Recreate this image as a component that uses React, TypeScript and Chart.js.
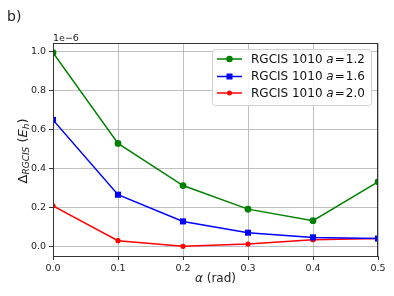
import React, { useEffect, useRef } from "react";
import { Chart, registerables } from "chart.js";

Chart.register(...registerables);

const alphas = [0.0, 0.1, 0.2, 0.3, 0.4, 0.5];
const seriesA12 = [0.994, 0.528, 0.312, 0.191, 0.132, 0.331];
const seriesA16 = [0.649, 0.265, 0.128, 0.07, 0.046, 0.04];
const seriesA20 = [0.208, 0.029, 0.0, 0.012, 0.034, 0.04];
const seriesLabels = ["1.2", "1.6", "2.0"];
const xTicks = [0.0, 0.1, 0.2, 0.3, 0.4, 0.5];
const yTicks = [0.0, 0.2, 0.4, 0.6, 0.8, 1.0];

const FONT = "'DejaVu Sans', sans-serif";
const colors = ["#008000", "#0000ff", "#ff0000"];
const styles = ["circle", "rect", "circle"];
const radii = [3.4, 4.3, 2.6];

const decorPlugin = {
  id: "decor",
  afterDraw(chart: any) {
    const ctx = chart.ctx;
    const a = chart.chartArea;
    ctx.save();
    // frame
    ctx.strokeStyle = "#333";
    ctx.lineWidth = 1;
    ctx.strokeRect(a.left + 0.5, a.top + 0.5, a.right - a.left - 1, a.bottom - a.top);
    ctx.fillStyle = "#222";
    // b)
    ctx.font = `14px ${FONT}`;
    ctx.textBaseline = "alphabetic";
    ctx.textAlign = "left";
    ctx.fillText("b)", 7, 21);
    // offset text
    ctx.font = `9.5px ${FONT}`;
    ctx.fillText("1e\u22126", a.left, 41);
    // x title
    const cx = (a.left + a.right) / 2;
    ctx.font = `italic 12px ${FONT}`;
    const w1 = ctx.measureText("\u03b1").width;
    ctx.font = `12px ${FONT}`;
    const w2 = ctx.measureText(" (rad)").width;
    let x0 = cx - (w1 + w2) / 2;
    ctx.font = `italic 12px ${FONT}`;
    ctx.fillText("\u03b1", x0, 282);
    ctx.font = `12px ${FONT}`;
    ctx.fillText(" (rad)", x0 + w1, 282);
    // y title (rotated)
    ctx.translate(26.5, 151);
    ctx.rotate(-Math.PI / 2);
    const parts: [string, string, number][] = [
      ["\u0394", `13px ${FONT}`, 0],
      ["RGCIS", `italic 9px ${FONT}`, 2.5],
      [" (", `13px ${FONT}`, 0],
      ["E", `italic 13px ${FONT}`, 0],
      ["h", `italic 9px ${FONT}`, 2.5],
      [")", `13px ${FONT}`, 0],
    ];
    let tw = 0;
    for (const p of parts) { ctx.font = p[1]; tw += ctx.measureText(p[0]).width; }
    let px = -tw / 2;
    for (const p of parts) {
      ctx.font = p[1];
      ctx.fillText(p[0], px, p[2]);
      px += ctx.measureText(p[0]).width;
    }
    ctx.restore();

    // legend
    ctx.save();
    const lx = 212.5, ly = 49.5, lw = 159, lh = 56, r = 3;
    ctx.beginPath();
    ctx.moveTo(lx + r, ly);
    ctx.arcTo(lx + lw, ly, lx + lw, ly + lh, r);
    ctx.arcTo(lx + lw, ly + lh, lx, ly + lh, r);
    ctx.arcTo(lx, ly + lh, lx, ly, r);
    ctx.arcTo(lx, ly, lx + lw, ly, r);
    ctx.closePath();
    ctx.fillStyle = "rgba(255,255,255,0.85)";
    ctx.fill();
    ctx.strokeStyle = "#d0d0d0";
    ctx.lineWidth = 1;
    ctx.stroke();
    const rows = [59, 76.5, 93];
    chart.data.datasets.forEach((ds: any, i: number) => {
      const y = rows[i];
      ctx.strokeStyle = colors[i];
      ctx.lineWidth = 1.5;
      ctx.beginPath();
      ctx.moveTo(217, y);
      ctx.lineTo(242, y);
      ctx.stroke();
      ctx.fillStyle = colors[i];
      if (styles[i] === "rect") {
        ctx.fillRect(229.5 - 3, y - 3, 6, 6);
      } else {
        ctx.beginPath();
        ctx.arc(229.5, y, i === 0 ? 3.2 : 2.5, 0, Math.PI * 2);
        ctx.fill();
      }
      ctx.fillStyle = "#111";
      ctx.textBaseline = "middle";
      let tx = 251;
      ctx.font = `12px ${FONT}`;
      ctx.fillText("RGCIS 1010 ", tx, y + 0.5);
      tx += ctx.measureText("RGCIS 1010 ").width;
      ctx.font = `italic 12px ${FONT}`;
      ctx.fillText("a", tx, y + 0.5);
      tx += ctx.measureText("a").width + 1;
      ctx.font = `12px ${FONT}`;
      ctx.fillText("=", tx, y + 0.5);
      tx += ctx.measureText("=").width + 1;
      ctx.fillText(seriesLabels[i], tx, y + 0.5);
    });
    ctx.restore();
  },
};

export default function App() {
  const ref = useRef<HTMLCanvasElement | null>(null);
  useEffect(() => {
    document.body.style.margin = "0";
    const all = [seriesA12, seriesA16, seriesA20];
    const chart = new Chart(ref.current as HTMLCanvasElement, {
      type: "line",
      data: {
        datasets: all.map((s, i) => ({
          label: "RGCIS 1010 a = " + seriesLabels[i],
          data: alphas.map((x, j) => ({ x, y: s[j] })),
          borderColor: colors[i],
          backgroundColor: colors[i],
          borderWidth: 1.5,
          pointStyle: styles[i] as any,
          pointRadius: radii[i],
          pointBorderWidth: 0,
          pointBackgroundColor: colors[i],
          clip: 0 as any,
          tension: 0,
        })),
      },
      options: {
        animation: false,
        responsive: false,
        layout: { padding: { left: 0, right: 16, top: 43, bottom: 0 } },
        plugins: { legend: { display: false }, tooltip: { enabled: false } },
        scales: {
          x: {
            type: "linear",
            min: 0,
            max: 0.5,
            afterBuildTicks: (s: any) => { s.ticks = xTicks.map((v) => ({ value: v })); },
            afterFit: (s: any) => { s.height = 40; },
            ticks: {
              callback: (v: any) => Number(v).toFixed(1),
              font: { family: "DejaVu Sans", size: 9.5 },
              color: "#222",
              padding: 3,
              maxRotation: 0,
              autoSkip: false,
            },
            grid: { color: "#b0b0b0", lineWidth: 0.8, tickLength: 4, tickColor: "#333", tickWidth: 1 },
            border: { color: "#333", width: 1 },
          },
          y: {
            type: "linear",
            min: -0.0495,
            max: 1.0435,
            afterBuildTicks: (s: any) => { s.ticks = yTicks.map((v) => ({ value: v })); },
            afterFit: (s: any) => { s.width = 53; },
            ticks: {
              callback: (v: any) => Number(v).toFixed(1),
              font: { family: "DejaVu Sans", size: 9.5 },
              color: "#222",
              padding: 3,
              autoSkip: false,
            },
            grid: { color: "#b0b0b0", lineWidth: 0.8, tickLength: 4, tickColor: "#333", tickWidth: 1 },
            border: { color: "#333", width: 1 },
          },
        },
      },
      plugins: [decorPlugin],
    });
    return () => chart.destroy();
  }, []);
  return (
    <div style={{ width: 394, height: 296, background: "#fff" }}>
      <canvas ref={ref} width={394} height={296} style={{ display: "block" }} />
    </div>
  );
}
